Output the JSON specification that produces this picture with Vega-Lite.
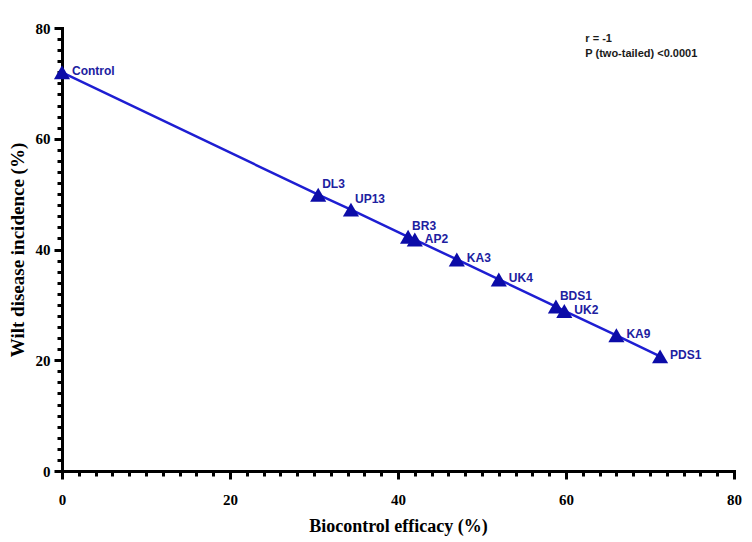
{
  "$schema": "https://vega.github.io/schema/vega-lite/v6.json",
  "description": "Wilt disease incidence vs biocontrol efficacy.",
  "width": 672,
  "height": 443,
  "autosize": "none",
  "padding": {"left": 62, "top": 28, "right": 18, "bottom": 71},
  "config": {"view": {"stroke": null}},
  "datasets": {
    "isolates": [
      {"isolate": "Control", "efficacy": 0, "incidence": 72.0},
      {"isolate": "DL3", "efficacy": 30.5, "incidence": 49.9},
      {"isolate": "UP13", "efficacy": 34.4, "incidence": 47.2},
      {"isolate": "BR3", "efficacy": 41.2, "incidence": 42.3},
      {"isolate": "AP2", "efficacy": 42.0, "incidence": 41.8},
      {"isolate": "KA3", "efficacy": 47.0, "incidence": 38.2},
      {"isolate": "UK4", "efficacy": 52.0, "incidence": 34.6},
      {"isolate": "BDS1", "efficacy": 58.8, "incidence": 29.7},
      {"isolate": "UK2", "efficacy": 59.8, "incidence": 28.9},
      {"isolate": "KA9", "efficacy": 66.0, "incidence": 24.5},
      {"isolate": "PDS1", "efficacy": 71.2, "incidence": 20.7}
    ],
    "notes": [
      {"efficacy": 62.3, "incidence": 78.0, "note": "r = -1"},
      {"efficacy": 62.3, "incidence": 75.3, "note": "P (two-tailed) <0.0001"}
    ]
  },
  "data": {"name": "isolates"},
  "resolve": {"axis": {"x": "independent", "y": "independent"}},
  "layer": [
    {
      "mark": {"type": "line", "color": "#1e1ed2", "strokeWidth": 2.5},
      "encoding": {
        "x": {
          "field": "efficacy", "type": "quantitative",
          "title": "Biocontrol efficacy (%)",
          "scale": {"domain": [0, 80], "nice": false},
          "axis": {
            "orient": "bottom",
            "values": [0, 20, 40, 60, 80], "grid": false,
            "domainColor": "black", "domainWidth": 3, "domainCap": "square",
            "tickColor": "black", "tickWidth": 3, "tickSize": 8,
            "labelFont": "Liberation Serif", "labelFontWeight": "bold", "labelFontSize": 15,
            "labelColor": "black", "labelPadding": 13, "labelFlush": false,
            "titleFont": "Liberation Serif", "titleFontWeight": "bold", "titleFontSize": 18,
            "titleColor": "black", "titlePadding": 10
          }
        },
        "y": {
          "field": "incidence", "type": "quantitative",
          "title": "Wilt disease incidence (%)",
          "scale": {"domain": [0, 80], "nice": false},
          "axis": {
            "orient": "left",
            "values": [0, 20, 40, 60, 80], "grid": false,
            "domainColor": "black", "domainWidth": 3, "domainCap": "square",
            "tickColor": "black", "tickWidth": 3, "tickSize": 8,
            "labelFont": "Liberation Serif", "labelFontWeight": "bold", "labelFontSize": 15,
            "labelColor": "black", "labelPadding": 4, "labelFlush": false,
            "titleFont": "Liberation Serif", "titleFontWeight": "bold", "titleFontSize": 19,
            "titleColor": "black", "titlePadding": 8
          }
        }
      }
    },
    {
      "mark": {"type": "point", "shape": "triangle-up", "filled": true, "size": 260, "opacity": 1, "color": "#0c0ca8"},
      "encoding": {
        "x": {
          "field": "efficacy", "type": "quantitative",
          "axis": {
            "orient": "bottom",
            "values": [2, 4, 6, 8, 10, 12, 14, 16, 18, 22, 24, 26, 28, 30, 32, 34, 36, 38, 42, 44, 46, 48, 50, 52, 54, 56, 58, 62, 64, 66, 68, 70, 72, 74, 76, 78],
            "grid": false, "domain": false, "labels": false, "title": null,
            "tickColor": "black", "tickWidth": 3, "tickSize": 5
          }
        },
        "y": {
          "field": "incidence", "type": "quantitative",
          "axis": {
            "orient": "left",
            "values": [2, 4, 6, 8, 10, 12, 14, 16, 18, 22, 24, 26, 28, 30, 32, 34, 36, 38, 42, 44, 46, 48, 50, 52, 54, 56, 58, 62, 64, 66, 68, 70, 72, 74, 76, 78],
            "grid": false, "domain": false, "labels": false, "title": null,
            "tickColor": "black", "tickWidth": 3, "tickSize": 5
          }
        }
      }
    },
    {
      "transform": [{"filter": {"field": "isolate", "oneOf": ["DL3", "UP13", "BR3", "BDS1"]}}],
      "mark": {"type": "text", "align": "left", "baseline": "middle", "dx": 4, "dy": -11, "font": "Liberation Sans", "fontWeight": "bold", "fontSize": 12, "color": "#2020a0"},
      "encoding": {
        "x": {"field": "efficacy", "type": "quantitative", "axis": null},
        "y": {"field": "incidence", "type": "quantitative", "axis": null},
        "text": {"field": "isolate"}
      }
    },
    {
      "transform": [{"filter": {"field": "isolate", "oneOf": ["Control", "AP2", "KA3", "UK4", "UK2", "KA9", "PDS1"]}}],
      "mark": {"type": "text", "align": "left", "baseline": "middle", "dx": 10, "dy": -1, "font": "Liberation Sans", "fontWeight": "bold", "fontSize": 12, "color": "#2020a0"},
      "encoding": {
        "x": {"field": "efficacy", "type": "quantitative", "axis": null},
        "y": {"field": "incidence", "type": "quantitative", "axis": null},
        "text": {"field": "isolate"}
      }
    },
    {
      "data": {"name": "notes"},
      "mark": {"type": "text", "align": "left", "baseline": "middle", "font": "Liberation Sans", "fontWeight": "bold", "fontSize": 11, "color": "#1a1a1a"},
      "encoding": {
        "x": {"field": "efficacy", "type": "quantitative", "axis": null},
        "y": {"field": "incidence", "type": "quantitative", "axis": null},
        "text": {"field": "note"}
      }
    }
  ]
}
